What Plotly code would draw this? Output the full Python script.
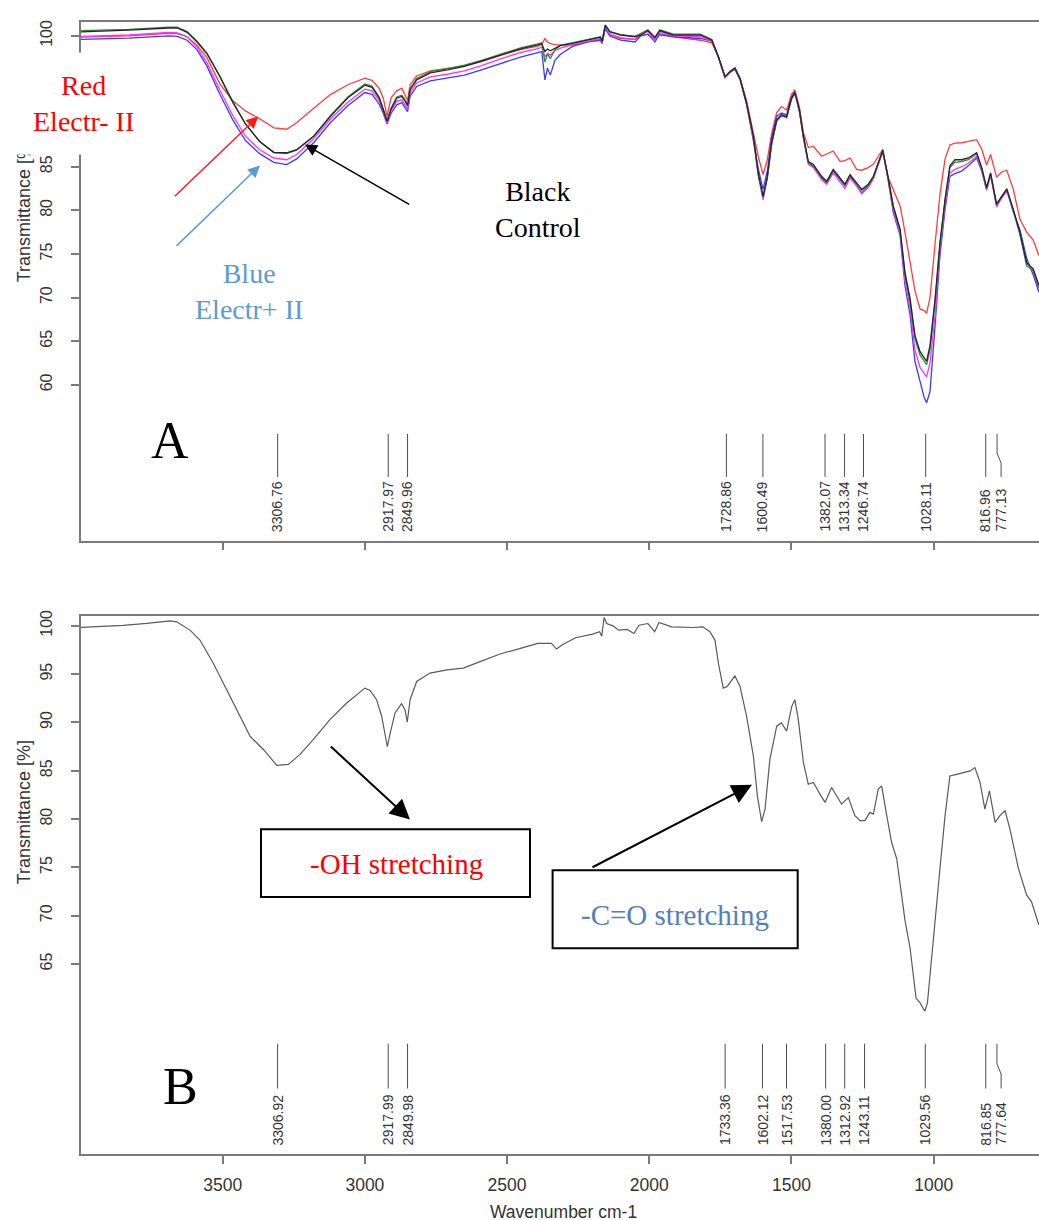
import plotly.graph_objects as go

# ---------------------------------------------------------------------------
# Spectrum A: five samples measured on a shared wavenumber grid (cm-1)
# ---------------------------------------------------------------------------
wn_a = [
    4000, 3830, 3690, 3660, 3625, 3590, 3555, 3510, 3465, 3420,
    3370, 3320, 3275, 3240, 3180, 3120, 3060, 3000, 2975, 2950,
    2935, 2922, 2908, 2888, 2870, 2862, 2850, 2841, 2818, 2770,
    2710, 2650, 2590, 2520, 2450, 2395, 2378, 2367, 2358, 2348,
    2332, 2312, 2270, 2215, 2172, 2166, 2155, 2138, 2100, 2050,
    2030, 2005, 1980, 1963, 1915, 1820, 1780, 1757, 1734, 1716,
    1699, 1681, 1658, 1634, 1617, 1600, 1585, 1570, 1552, 1535,
    1517, 1500, 1488, 1472, 1458, 1441, 1423, 1394, 1376, 1353,
    1329, 1312, 1294, 1271, 1253, 1230, 1212, 1195, 1179, 1163,
    1142, 1118, 1101, 1083, 1066, 1048, 1034, 1025, 1013, 995,
    978, 960, 943, 925, 902, 878, 849, 831, 814, 800,
    779, 761, 743, 720, 697, 673, 650, 630,
]

t_red = [
    99.85, 100.0, 100.3, 100.27, 99.9, 98.9, 97.5, 94.5, 92.6, 91.4,
    90.5, 89.45, 89.3, 90.05, 91.7, 93.3, 94.4, 95.15, 94.9, 94.0,
    92.8, 90.8, 92.9, 93.7, 94.0, 93.5, 92.6, 94.4, 95.4, 96.0,
    96.3, 96.55, 97.05, 97.8, 98.45, 98.8, 99.0, 99.7, 99.3, 99.1,
    99.0, 98.95, 98.95, 99.3, 99.6, 99.2, 100.95, 100.1, 99.7, 99.6,
    100.0, 100.2, 99.6, 100.1, 99.9, 99.5, 99.2, 97.6, 95.3, 95.9,
    96.3, 95.2, 92.6, 89.0, 86.2, 84.1, 85.8, 88.8, 91.2, 91.9,
    91.5, 93.3, 93.8, 91.8, 88.9, 87.2, 87.35, 86.2, 86.5, 86.8,
    85.6, 85.7, 86.0, 84.7, 84.6, 84.9, 85.3, 86.2, 87.0, 84.0,
    82.3, 80.5, 77.5, 74.3, 70.8, 68.7, 68.5, 68.2, 70.0, 76.2,
    81.8, 85.9, 87.5, 87.7, 87.75, 87.9, 88.1, 87.0, 85.2, 86.4,
    83.8, 84.4, 84.6, 82.4, 79.0, 77.5, 76.6, 74.8,
]

t_blue = [
    99.6, 99.75, 100.0, 99.95, 99.5, 98.4, 96.5, 93.3, 90.4, 88.0,
    86.5, 85.5, 85.25, 85.9, 87.75, 90.1, 92.0, 93.5, 93.3, 92.2,
    91.1, 89.9, 91.1, 92.1, 92.35, 91.9, 91.3, 93.05, 94.2, 94.85,
    95.15, 95.5, 96.1, 96.85, 97.6, 98.05, 98.2, 94.95, 96.3, 95.5,
    97.2, 97.9, 98.8, 99.3, 99.5, 99.1, 100.8, 99.95, 99.5, 99.3,
    100.0, 100.2, 99.3, 100.25, 99.9, 99.7, 99.4, 97.6, 95.25, 95.8,
    96.15, 95.0, 92.2, 88.0, 84.8, 82.4, 84.5, 88.3, 90.8, 91.15,
    90.95, 93.0, 93.6, 91.3, 88.3, 85.45, 85.0, 83.7, 83.1, 84.5,
    83.5, 82.8, 83.9, 82.9, 82.0, 82.8, 83.75, 85.3, 86.95, 84.1,
    79.75, 77.1, 71.4, 68.0, 62.7, 60.4, 58.6, 57.95, 59.2, 66.8,
    74.8, 80.1, 83.9, 84.2, 84.5, 85.1, 86.0, 84.5, 82.4, 84.1,
    80.7, 81.6, 82.4, 79.8, 77.8, 74.5, 72.6, 70.6,
]

t_magenta = [
    99.95, 100.1, 100.4, 100.35, 99.9, 98.7, 96.9, 93.8, 90.9, 88.5,
    86.95, 86.0, 85.8, 86.4, 88.2, 90.5, 92.4, 93.9, 93.7, 92.6,
    91.4, 90.0, 91.4, 92.5, 92.7, 92.3, 91.6, 93.4, 94.6, 95.3,
    95.6, 96.0, 96.6, 97.4, 98.1, 98.5, 98.7, 97.6, 98.0, 97.8,
    98.3, 98.6, 99.0, 99.4, 99.7, 99.2, 101.0, 100.2, 99.8, 99.6,
    100.2, 100.5, 99.6, 100.5, 100.0, 99.9, 99.4, 97.5, 95.2, 95.8,
    96.2, 95.0, 92.1, 88.2, 84.0, 81.2, 83.6, 87.5, 90.2, 90.8,
    90.6, 92.7, 93.4, 91.3, 88.3, 85.3, 84.9, 83.5, 83.0, 84.3,
    83.3, 82.5, 83.7, 82.8, 81.9, 82.6, 83.6, 85.2, 86.7, 84.0,
    80.0, 77.3, 72.0, 68.8, 64.0, 62.0, 61.3, 60.9, 62.5, 68.0,
    75.5, 80.6, 84.3, 84.7, 85.0, 85.4, 86.2, 84.6, 82.3, 84.0,
    80.4, 81.4, 82.2, 79.9, 77.3, 73.9, 73.0, 71.0,
]

t_green = [
    100.6, 100.75, 101.0, 101.0, 100.5, 99.4, 98.0, 95.4, 92.5, 89.9,
    87.9, 86.6, 86.5, 86.9, 88.5, 90.9, 93.0, 94.5, 94.25, 93.0,
    91.6, 90.3, 91.7, 93.0, 93.2, 92.85, 92.1, 93.95, 95.1, 95.9,
    96.25, 96.65, 97.2, 97.9, 98.65, 99.05, 99.2, 97.0, 97.9, 97.4,
    98.4, 98.9, 99.2, 99.55, 99.9, 99.4, 101.25, 100.5, 100.15, 99.95,
    100.25, 100.7, 99.85, 100.7, 100.2, 100.2, 99.6, 97.6, 95.35, 95.95,
    96.35, 95.15, 92.3, 88.4, 84.2, 81.5, 83.8, 87.6, 90.3, 90.9,
    90.7, 92.8, 93.5, 91.5, 88.5, 85.5, 85.1, 83.8, 83.2, 84.6,
    83.6, 82.9, 84.0, 83.1, 82.3, 82.9, 83.8, 85.4, 86.8, 84.2,
    80.3, 77.6, 72.6, 69.5, 65.3, 63.4, 62.8, 62.3, 64.0, 69.5,
    76.0, 81.1, 84.9, 85.5, 85.6, 85.8, 86.5, 84.8, 82.5, 84.2,
    80.6, 81.5, 82.5, 80.0, 77.3, 73.6, 73.1, 71.1,
]

t_black = [
    100.46, 100.65, 100.9, 100.9, 100.4, 99.3, 97.95, 95.35, 92.4, 89.9,
    87.9, 86.65, 86.6, 86.95, 88.5, 90.8, 92.9, 94.35, 94.1, 92.9,
    91.5, 90.2, 91.6, 92.85, 93.05, 92.7, 92.0, 93.8, 94.95, 95.75,
    96.1, 96.5, 97.1, 97.8, 98.55, 98.95, 99.1, 98.2, 98.5, 98.3,
    98.6, 98.9, 99.15, 99.5, 99.85, 99.35, 101.2, 100.45, 100.1, 99.9,
    100.1, 100.6, 99.8, 100.6, 100.1, 100.1, 99.5, 97.6, 95.3, 95.9,
    96.3, 95.1, 92.3, 88.5, 84.3, 81.6, 83.9, 87.7, 90.4, 90.95,
    90.75, 92.85, 93.5, 91.5, 88.5, 85.6, 85.25, 83.9, 83.35, 84.7,
    83.75, 83.0, 84.1, 83.2, 82.4, 83.0, 83.9, 85.45, 86.8, 84.3,
    80.5, 77.85, 72.9, 69.9, 65.7, 63.8, 63.2, 62.7, 64.5, 69.9,
    76.3, 81.3, 85.1, 85.8, 85.8, 86.0, 86.6, 84.9, 82.6, 84.3,
    80.7, 81.6, 82.4, 80.1, 77.5, 74.0, 73.3, 71.4,
]

peaks_a = [3306.76, 2917.97, 2849.96, 1728.86, 1600.49, 1382.07,
           1313.34, 1246.74, 1028.11, 816.96, 777.13]

# ---------------------------------------------------------------------------
# Spectrum B: single sample
# ---------------------------------------------------------------------------
wn_b = [
    4000, 3850, 3767, 3685, 3662, 3615, 3580, 3533, 3486, 3439,
    3404, 3357, 3310, 3269, 3228, 3181, 3123, 3064, 3000, 2982,
    2959, 2941, 2929, 2921, 2912, 2894, 2871, 2859, 2851, 2841,
    2818, 2771, 2712, 2654, 2595, 2525, 2453, 2392, 2344, 2326,
    2307, 2259, 2199, 2175, 2167, 2159, 2150, 2126, 2108, 2078,
    2054, 2036, 2005, 1981, 1966, 1921, 1848, 1812, 1787, 1769,
    1757, 1740, 1726, 1699, 1681, 1658, 1634, 1620, 1605, 1593,
    1576, 1552, 1535, 1517, 1499, 1488, 1476, 1458, 1441, 1423,
    1400, 1382, 1359, 1341, 1324, 1300, 1277, 1259, 1242, 1224,
    1212, 1195, 1183, 1165, 1148, 1130, 1113, 1101, 1083, 1072,
    1062, 1048, 1031, 1022, 1011, 995, 978, 960, 943, 919,
    896, 872, 855, 837, 820, 804, 784, 767, 749, 732,
    702, 673, 656, 630,
]

t_b = [
    99.83, 100.03, 100.24, 100.51, 100.41, 99.55, 98.52, 96.12, 93.38, 90.64,
    88.58, 87.2, 85.56, 85.66, 86.69, 88.24, 90.29, 92.01, 93.55, 93.31,
    92.35, 90.64, 88.58, 87.48, 88.75, 90.98, 91.94, 91.32, 90.02, 92.35,
    94.24, 95.1, 95.44, 95.61, 96.29, 97.08, 97.66, 98.18, 98.18, 97.59,
    98.0, 98.76, 99.14, 99.38, 98.93, 100.85, 100.23, 99.96, 99.55, 99.62,
    99.2, 100.06, 100.23, 99.38, 100.35, 99.89, 99.82, 99.89, 99.38, 98.52,
    96.12, 93.55, 93.72, 94.82, 93.72, 90.64, 86.52, 82.4, 79.73, 81.03,
    86.18, 89.61, 89.95, 89.09, 91.66, 92.35, 90.29, 85.83, 83.6, 83.78,
    82.58, 81.72, 83.26, 82.4, 81.55, 82.23, 80.35, 79.83, 79.83, 80.69,
    80.52, 83.09, 83.43, 80.35, 77.6, 75.89, 72.12, 69.54, 66.63, 63.89,
    61.48, 60.97, 60.11, 60.97, 64.57, 69.72, 74.86, 80.35, 84.46, 84.63,
    84.8, 84.98, 85.32, 83.78, 81.03, 82.92, 79.66, 80.35, 80.86, 78.98,
    74.86, 72.12, 71.43, 69.03,
]

peaks_b = [3306.92, 2917.99, 2849.98, 1733.36, 1602.12, 1517.53, 1380.00,
           1312.92, 1243.11, 1029.56, 816.85, 777.64]

x_ticks = [3500, 3000, 2500, 2000, 1500, 1000]

# ---------------------------------------------------------------------------
W, H = 1039, 1220
SANS = "Liberation Sans"
SERIF = "Liberation Serif"
AXIS_GREY = "#7a7a7a"
LABEL_BLUE = "#5B9BD5"

fig = go.Figure()

series_a = [
    ("Electr- II", t_red, "#ff3b3b"),
    ("Electr+ II", t_blue, "#3a3aff"),
    ("magenta", t_magenta, "#ff30ff"),
    ("green", t_green, "#2f8f2f"),
    ("Control", t_black, "#262626"),
]
for name, vals, col in series_a:
    fig.add_trace(go.Scatter(x=wn_a, y=vals, mode="lines", name=name,
                             line=dict(color=col, width=1.3),
                             xaxis="x", yaxis="y", hoverinfo="skip"))

fig.add_trace(go.Scatter(x=wn_b, y=t_b, mode="lines", name="B",
                         line=dict(color="#5a5a5a", width=1.2),
                         xaxis="x2", yaxis="y2", hoverinfo="skip"))

annotations = []
MIN_SEP = 54  # minimum label spacing in cm-1; closer labels are nudged


def add_peak_marks(peaks, xa, ya, top, bottom, label_base):
    """Vertical peak ticks with rotated wavenumber labels underneath."""
    label_pos = []
    prev = None
    for p in peaks:
        pos = p
        if prev is not None and prev - pos < MIN_SEP:
            pos = prev - MIN_SEP
        label_pos.append(pos)
        prev = pos
    xs, ys = [], []
    span = top - bottom
    for p, lp in zip(peaks, label_pos):
        if lp == p:
            xs += [p, p, None]
            ys += [top, bottom, None]
        else:
            xs += [p, p, lp, lp, None]
            ys += [top, top - 0.45 * span, top - 0.68 * span, bottom, None]
    fig.add_trace(go.Scatter(x=xs, y=ys, mode="lines",
                             line=dict(color="#4d4d4d", width=1),
                             xaxis=xa, yaxis=ya, hoverinfo="skip"))
    for p, lp in zip(peaks, label_pos):
        annotations.append(dict(
            x=lp, y=label_base, xref=xa, yref=ya, text=f"{p:.2f}",
            textangle=-90, showarrow=False, xanchor="center", yanchor="bottom",
            font=dict(family=SANS, size=14, color="#333333")))


add_peak_marks(peaks_a, "x", "y", 54.38, 49.44, 42.9)
add_peak_marks(peaks_b, "x2", "y2", 56.75, 52.12, 46.02)


def txt(x, y, text, color, size=29, xref="x", yref="y", **kw):
    d = dict(x=x, y=y, xref=xref, yref=yref, text=text, showarrow=False,
             xanchor="center", yanchor="middle",
             font=dict(family=SERIF, size=size, color=color))
    d.update(kw)
    annotations.append(d)


def arrow(x, y, ax, ay, color, width, size, xref="x", yref="y"):
    annotations.append(dict(
        x=x, y=y, ax=ax, ay=ay, xref=xref, yref=yref, axref=xref, ayref=yref,
        text="", showarrow=True, arrowhead=2, arrowsize=size,
        arrowwidth=width, arrowcolor=color))


# axis titles
for yref, yc in (("y", 79.94), ("y2", 80.64)):
    annotations.append(dict(
        x=23.5 / W, y=yc, xref="paper", yref=yref, text="Transmittance [%]",
        textangle=-90, showarrow=False, xanchor="center", yanchor="middle",
        font=dict(family=SANS, size=18, color="#333333")))
annotations.append(dict(
    x=563 / W, y=1 - 1200 / H, xref="paper", yref="paper",
    text="Wavenumber cm-1", showarrow=False, xanchor="center", yanchor="top",
    font=dict(family=SANS, size=17.5, color="#333333")))

# panel A labels and arrows
txt(3987.7, 92.3, "Red<br>Electr- II", "#ff0000", size=28,
    bgcolor="white", borderpad=17)
txt(2391.4, 80.1, "Black<br>Control", "#000000", size=28)
txt(3407.5, 70.75, "Blue<br>Electr+ II", LABEL_BLUE, size=28)
txt(3685.3, 53.65, "A", "#000000", size=52)
arrow(3374.8, 90.77, 3673.7, 81.46, "#ff1a1a", 1.5, 1.6)
arrow(3368.8, 85.15, 3667.7, 75.76, LABEL_BLUE, 1.5, 1.6)
arrow(3210.6, 87.54, 2839.0, 80.59, "#000000", 1.5, 1.6)

# panel B labels, boxes and arrows
txt(2890.6, 75.3, "-OH stretching", "#ff0000", xref="x2", yref="y2")
txt(1909.6, 70.09, "-C=O stretching", "#4F81BD", xref="x2", yref="y2")
txt(3650.1, 52.3, "B", "#000000", size=52, xref="x2", yref="y2")
arrow(2841.4, 79.94, 3125.2, 87.65, "#000000", 2, 2, xref="x2", yref="y2")
arrow(1638.9, 83.54, 2205.0, 74.93, "#000000", 2, 2, xref="x2", yref="y2")

shapes = [
    dict(type="rect", xref="x2", yref="y2", x0=3365.3, x1=2419.5,
         y0=71.94, y1=78.94, line=dict(color="#000000", width=2)),
    dict(type="rect", xref="x2", yref="y2", x0=2340.0, x1=1478.2,
         y0=66.63, y1=74.69, line=dict(color="#000000", width=2)),
]

axis_common = dict(showline=True, linecolor=AXIS_GREY, linewidth=1.5,
                   ticks="outside", ticklen=8, tickwidth=1.5,
                   tickcolor=AXIS_GREY, showgrid=False, zeroline=False)
x_dom = [81 / W, 1.0]
x_rng = [3998.2, 629.7]
y_tick_font = dict(family=SANS, size=16, color="#333333")

fig.update_layout(
    width=W, height=H, margin=dict(l=0, r=0, t=0, b=0),
    paper_bgcolor="white", plot_bgcolor="white", showlegend=False,
    xaxis=dict(domain=x_dom, range=x_rng, anchor="y", tickvals=x_ticks,
               showticklabels=False, mirror=True, **axis_common),
    yaxis=dict(domain=[1 - 536.7 / H, 1 - 15 / H], range=[42.14, 101.6],
               anchor="x", tickvals=[60, 65, 70, 75, 80, 85, 90, 95, 100],
               tickangle=-90, tickfont=y_tick_font, ticklabelstandoff=13,
               **axis_common),
    xaxis2=dict(domain=x_dom, range=x_rng, anchor="y2", tickvals=x_ticks,
                mirror=True, ticklabelstandoff=6,
                tickfont=dict(family=SANS, size=17.5, color="#333333"),
                **axis_common),
    yaxis2=dict(domain=[1 - 1154 / H, 1 - 613 / H], range=[45.30, 100.96],
                anchor="x2", tickvals=[65, 70, 75, 80, 85, 90, 95, 100],
                tickangle=-90, tickfont=y_tick_font, ticklabelstandoff=13,
                **axis_common),
    annotations=annotations,
    shapes=shapes,
)

fig.write_html("out.html", config={"displayModeBar": False})
